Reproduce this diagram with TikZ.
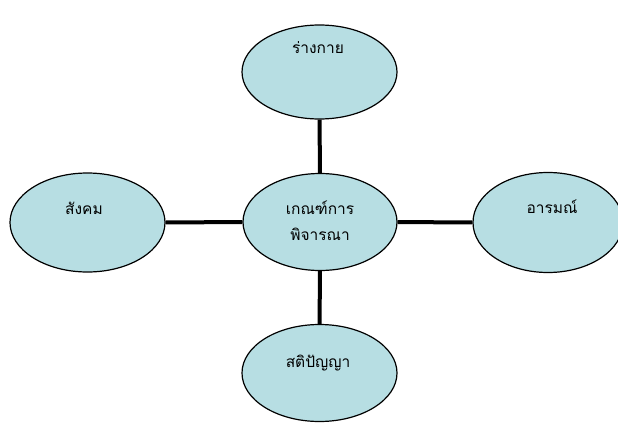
\documentclass[tikz,border=0pt]{standalone}
\usepackage{fontspec}
\newfontfamily\thaifont[Script=Thai]{Loma}
\usetikzlibrary{shapes.geometric}
\definecolor{bubble}{RGB}{183,222,227}
\begin{document}
\begin{tikzpicture}[x=1pt,y=-1pt,
  bub/.style={ellipse,draw=black,line width=1.2pt,fill=bubble,inner sep=0pt},
  lbl/.style={font=\thaifont\fontsize{15.5}{18}\selectfont,inner sep=0pt},
  link/.style={line width=4pt,black}]
\useasboundingbox (0,0) rectangle (618,425);
\node[bub,minimum width=155,minimum height=94] (top) at (319.5,72) {};
\node[bub,minimum width=154,minimum height=97] (mid) at (320,222) {};
\node[bub,minimum width=155,minimum height=99] (left) at (87.5,222.5) {};
\node[bub,minimum width=150,minimum height=100] (right) at (548,222.5) {};
\node[bub,minimum width=155,minimum height=97] (bot) at (319.5,373) {};
\draw[link] (top) -- (mid);
\draw[link] (mid) -- (bot);
\draw[link] (left) -- (mid);
\draw[link] (mid) -- (right);
\node[lbl] (ttop) at (318,48) {ร่างกาย};
\node[lbl,align=center] (tmid) at (320,221) {เกณฑ์การ\\[8pt]พิจารณา};
\node[lbl] (tleft) at (84,208) {สังคม};
\node[lbl] (tright) at (552,207) {อารมณ์};
\node[lbl] (tbot) at (318,363) {สติปัญญา};
\end{tikzpicture}
\end{document}
